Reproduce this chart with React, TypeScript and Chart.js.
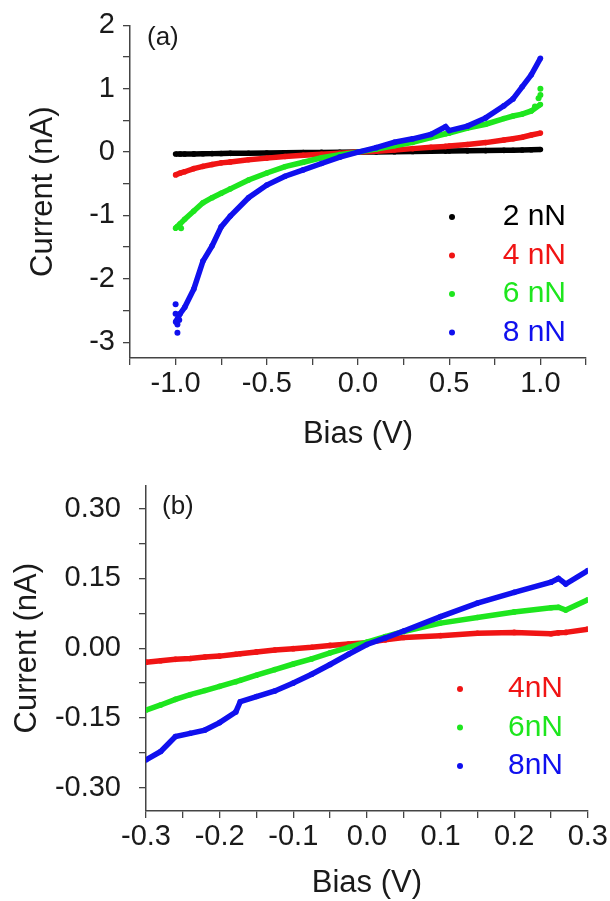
import React, { useEffect, useRef } from 'react';
import { Chart, registerables } from 'chart.js';

Chart.register(...registerables);

const FONT = "'Liberation Sans', Arial, Helvetica, sans-serif";
const TEXT = '#1a1a1a';
const AXIS = '#444444';

// ---------- Panel (a) data ----------
const biasA = [-1.0, -0.975, -0.95, -0.9, -0.85, -0.8, -0.75, -0.7, -0.6, -0.5, -0.4, -0.3, -0.2, -0.1, 0, 0.1, 0.2, 0.3, 0.4, 0.48, 0.5, 0.6, 0.7, 0.8, 0.85, 0.9, 0.95, 1.0];
const currentA_2nN = [-0.03, -0.03, -0.03, -0.028, -0.026, -0.024, -0.022, -0.02, -0.017, -0.014, -0.011, -0.008, -0.005, -0.002, 0, 0.003, 0.006, 0.01, 0.013, 0.016, 0.017, 0.02, 0.024, 0.028, 0.03, 0.033, 0.036, 0.04];
const currentA_4nN = [-0.36, -0.33, -0.31, -0.26, -0.225, -0.195, -0.17, -0.155, -0.12, -0.095, -0.07, -0.05, -0.035, -0.017, 0, 0.015, 0.035, 0.055, 0.075, 0.09, 0.095, 0.12, 0.15, 0.19, 0.21, 0.235, 0.27, 0.3];
const currentA_6nN = [-1.2, -1.13, -1.06, -0.93, -0.8, -0.72, -0.65, -0.58, -0.44, -0.33, -0.23, -0.16, -0.09, -0.04, 0, 0.05, 0.1, 0.155, 0.23, 0.29, 0.3, 0.38, 0.44, 0.53, 0.57, 0.6, 0.65, 0.75];
const currentA_8nN = [-2.68, -2.55, -2.45, -2.16, -1.72, -1.48, -1.18, -1.01, -0.72, -0.52, -0.38, -0.28, -0.18, -0.08, 0, 0.07, 0.155, 0.21, 0.28, 0.4, 0.34, 0.41, 0.54, 0.73, 0.84, 1.03, 1.22, 1.48];
// scattered stray points visible at the ends of the sweeps
const strayBiasA_6nN = [-0.99, -0.97, 0.97, 0.99, 1.0, 1.0];
const strayCurrentA_6nN = [-1.18, -1.2, 0.72, 0.85, 0.9, 1.0];
const strayBiasA_8nN = [-1.0, -1.0, -0.99, -0.99, -0.98];
const strayCurrentA_8nN = [-2.4, -2.55, -2.72, -2.85, -2.65];
const labelsA = ['2 nN', '4 nN', '6 nN', '8 nN'];

// ---------- Panel (b) data ----------
const biasB = [-0.3, -0.28, -0.26, -0.24, -0.22, -0.2, -0.178, -0.172, -0.15, -0.125, -0.1, -0.075, -0.05, -0.025, 0, 0.025, 0.05, 0.1, 0.15, 0.2, 0.25, 0.26, 0.27, 0.3];
const currentB_4nN = [-0.03, -0.027, -0.024, -0.022, -0.019, -0.017, -0.013, -0.012, -0.008, -0.004, -0.001, 0.002, 0.006, 0.009, 0.012, 0.018, 0.023, 0.027, 0.032, 0.034, 0.031, 0.033, 0.034, 0.041];
const currentB_6nN = [-0.133, -0.122, -0.11, -0.1, -0.091, -0.082, -0.072, -0.069, -0.058, -0.046, -0.034, -0.023, -0.01, 0.002, 0.013, 0.025, 0.036, 0.054, 0.066, 0.078, 0.087, 0.088, 0.082, 0.104];
const currentB_8nN = [-0.24, -0.222, -0.19, -0.183, -0.176, -0.16, -0.137, -0.115, -0.104, -0.092, -0.075, -0.056, -0.035, -0.013, 0.008, 0.022, 0.037, 0.068, 0.097, 0.12, 0.142, 0.15, 0.138, 0.167];
const labelsB = ['4nN', '6nN', '8nN'];

// tick label definitions
const xMajorA = 0.5;
const yMajorA = 1;
const xMajorB = 0.1;
const yMajorB = 0.15;

const BLACK = '#000000';
const RED = '#f01414';
const GREEN = '#1ee61e';
const BLUE = '#1010ee';

const toPoints = (xs: number[], ys: number[]) => xs.map((x, i) => ({ x, y: ys[i] }));

const overlayPlugin = {
  id: 'overlay',
  afterDatasetsDraw(chart: any, _args: any, opts: any) {
    const ctx = chart.ctx;
    ctx.save();
    ctx.textBaseline = 'middle';
    ctx.font = `${opts.fontSize}px ${FONT}`;
    (opts.rows as number[]).forEach((dsIndex, row) => {
      const ds = chart.data.datasets[dsIndex];
      const y = opts.top + row * opts.gap;
      ctx.fillStyle = ds.borderColor;
      ctx.beginPath();
      ctx.arc(opts.dotX, y, opts.dotR, 0, Math.PI * 2);
      ctx.fill();
      ctx.textAlign = 'right';
      ctx.fillText(ds.label, opts.textRight, y);
    });
    ctx.fillStyle = TEXT;
    ctx.textAlign = 'left';
    ctx.font = `${opts.tagSize}px ${FONT}`;
    ctx.fillText(opts.tag, opts.tagX, opts.tagY);
    ctx.restore();
  },
};

const fmt = (v: number, major: number, digits: number) => {
  const r = v / major;
  if (Math.abs(r - Math.round(r)) > 1e-6) return '';
  const val = Math.round(r) * major;
  return (Math.abs(val) < 1e-9 ? 0 : val).toFixed(digits);
};

function makeDataset(label: string, color: string, xs: number[], ys: number[], order: number) {
  return {
    label,
    data: toPoints(xs, ys),
    borderColor: color,
    backgroundColor: color,
    showLine: true,
    borderWidth: 5.5,
    pointRadius: 2.8,
    pointBorderWidth: 0,
    pointHoverRadius: 0,
    tension: 0,
    order,
  };
}

function makeStray(label: string, color: string, xs: number[], ys: number[], order: number) {
  return {
    label,
    data: toPoints(xs, ys),
    borderColor: color,
    backgroundColor: color,
    showLine: false,
    pointRadius: 3,
    pointBorderWidth: 0,
    pointHoverRadius: 0,
    order,
  };
}

function axisCommon() {
  return {
    grid: { drawOnChartArea: false, drawTicks: true, tickLength: 7, color: AXIS, lineWidth: 1.3 },
    border: { display: true, color: AXIS, width: 1.5 },
  };
}

function configA(): any {
  return {
    type: 'scatter',
    data: {
      datasets: [
        makeDataset(labelsA[0], BLACK, biasA, currentA_2nN, 3),
        makeDataset(labelsA[1], RED, biasA, currentA_4nN, 2),
        makeDataset(labelsA[2], GREEN, biasA, currentA_6nN, 1),
        makeDataset(labelsA[3], BLUE, biasA, currentA_8nN, 0),
        makeStray(labelsA[2], GREEN, strayBiasA_6nN, strayCurrentA_6nN, 1),
        makeStray(labelsA[3], BLUE, strayBiasA_8nN, strayCurrentA_8nN, 0),
      ],
    },
    plugins: [overlayPlugin],
    options: {
      responsive: false,
      animation: false,
      events: [],
      layout: { padding: { top: 22, right: 24, left: 0, bottom: 0 } },
      plugins: {
        legend: { display: false },
        tooltip: { enabled: false },
        overlay: { rows: [0, 1, 2, 3], top: 217, gap: 38.5, dotX: 452, dotR: 3, textRight: 566, fontSize: 30, tag: '(a)', tagX: 147, tagY: 38, tagSize: 26 },
      },
      scales: {
        x: {
          type: 'linear',
          min: -1.25,
          max: 1.25,
          ...axisCommon(),
          ticks: { stepSize: 0.25, includeBounds: false, autoSkip: false, maxRotation: 0, padding: 2, color: TEXT, font: { family: FONT, size: 29 }, callback: (v: number) => fmt(v, xMajorA, 1) },
          title: { display: true, text: 'Bias (V)', color: TEXT, font: { family: FONT, size: 31, lineHeight: 1 }, padding: { top: 0, bottom: 0 } },
          afterFit: (s: any) => { s.height = 92; },
        },
        y: {
          type: 'linear',
          min: -3.25,
          max: 2,
          ...axisCommon(),
          ticks: { stepSize: 0.5, includeBounds: false, autoSkip: false, padding: 8, color: TEXT, font: { family: FONT, size: 29 }, callback: (v: number) => fmt(v, yMajorA, 0) },
          title: { display: true, text: 'Current (nA)', color: TEXT, font: { family: FONT, size: 31, lineHeight: 1 }, padding: { top: 28, bottom: 0 } },
          afterFit: (s: any) => { s.width = 130; },
        },
      },
    },
  };
}

function configB(): any {
  return {
    type: 'scatter',
    data: {
      datasets: [
        makeDataset(labelsB[0], RED, biasB, currentB_4nN, 2),
        makeDataset(labelsB[1], GREEN, biasB, currentB_6nN, 1),
        makeDataset(labelsB[2], BLUE, biasB, currentB_8nN, 0),
      ],
    },
    plugins: [overlayPlugin],
    options: {
      responsive: false,
      animation: false,
      events: [],
      layout: { padding: { top: 35, right: 21, left: 0, bottom: 0 } },
      plugins: {
        legend: { display: false },
        tooltip: { enabled: false },
        overlay: { rows: [0, 1, 2], top: 239, gap: 38.5, dotX: 460, dotR: 3, textRight: 563, fontSize: 30, tag: '(b)', tagX: 162, tagY: 57, tagSize: 26 },
      },
      scales: {
        x: {
          type: 'linear',
          min: -0.3,
          max: 0.3,
          ...axisCommon(),
          ticks: { stepSize: 0.05, includeBounds: false, autoSkip: false, maxRotation: 0, padding: 2, color: TEXT, font: { family: FONT, size: 29 }, callback: (v: number) => fmt(v, xMajorB, 1) },
          title: { display: true, text: 'Bias (V)', color: TEXT, font: { family: FONT, size: 31, lineHeight: 1 }, padding: { top: 0, bottom: 2 } },
          afterFit: (s: any) => { s.height = 90; },
        },
        y: {
          type: 'linear',
          min: -0.35,
          max: 0.35,
          ...axisCommon(),
          ticks: { stepSize: 0.075, includeBounds: false, autoSkip: false, padding: 18, color: TEXT, font: { family: FONT, size: 29 }, callback: (v: number) => fmt(v, yMajorB, 2) },
          title: { display: true, text: 'Current (nA)', color: TEXT, font: { family: FONT, size: 31, lineHeight: 1 }, padding: { top: 12, bottom: 0 } },
          afterFit: (s: any) => { s.width = 146; },
        },
      },
    },
  };
}

function Panel({ height, make }: { height: number; make: () => any }) {
  const ref = useRef<HTMLCanvasElement | null>(null);
  useEffect(() => {
    if (!ref.current) return;
    const chart = new Chart(ref.current, make());
    return () => chart.destroy();
  }, [make]);
  return <canvas ref={ref} width={610} height={height} style={{ display: 'block', width: 610, height }} />;
}

export default function App() {
  return (
    <div style={{ position: 'absolute', left: 0, top: 0, width: 610, height: 901, background: '#ffffff' }}>
      <Panel height={450} make={configA} />
      <Panel height={451} make={configB} />
    </div>
  );
}
